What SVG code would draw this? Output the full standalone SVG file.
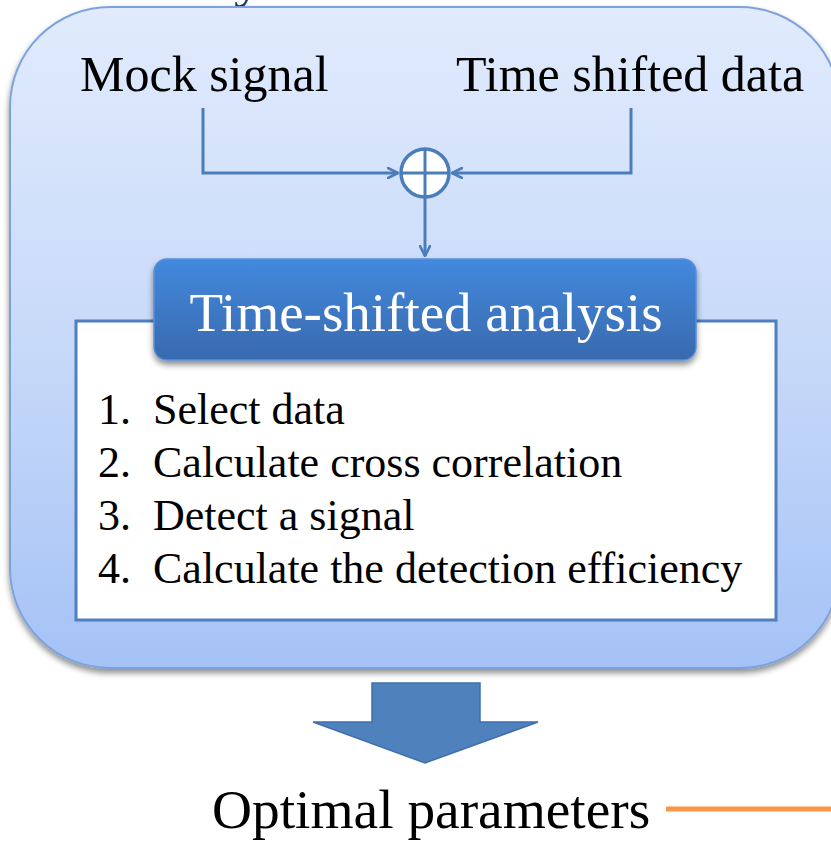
<svg xmlns="http://www.w3.org/2000/svg" width="831" height="841" viewBox="0 0 831 841">
  <style>
    .conn { fill: none; stroke: #4a7ebb; stroke-width: 3; }
  </style>
  <defs>
    <linearGradient id="panelGrad" x1="0" y1="0" x2="0" y2="1">
      <stop offset="0" stop-color="#e1ebfd"/>
      <stop offset="0.5" stop-color="#c8daf9"/>
      <stop offset="1" stop-color="#a5c2f6"/>
    </linearGradient>
    <linearGradient id="headGrad" x1="0" y1="0" x2="0" y2="1">
      <stop offset="0" stop-color="#4389de"/>
      <stop offset="1" stop-color="#3869ae"/>
    </linearGradient>
    <filter id="shadow" x="-10%" y="-20%" width="120%" height="150%">
      <feGaussianBlur in="SourceAlpha" stdDeviation="3"/>
      <feOffset dx="0" dy="4" result="b"/>
      <feComponentTransfer><feFuncA type="linear" slope="0.45"/></feComponentTransfer>
      <feMerge><feMergeNode/><feMergeNode in="SourceGraphic"/></feMerge>
    </filter>
    <marker id="arrow" viewBox="0 0 12 12" refX="11" refY="6" markerWidth="12" markerHeight="12" markerUnits="userSpaceOnUse" orient="auto">
      <path d="M1,1 L11,6 L1,11" fill="none" stroke="#4a7ebb" stroke-width="2.6" stroke-linecap="round" stroke-linejoin="round"/>
    </marker>
  </defs>

  <g font-family="'Liberation Serif', 'DejaVu Serif', serif" fill="#000000">
    <!-- descender of the heading above the panel -->
    <text x="234" y="-4" font-size="56" fill="#17365d">y</text>

    <!-- outer rounded panel -->
    <g id="panel">
      <rect x="10" y="7" width="830" height="661" rx="100" ry="100" fill="url(#panelGrad)" stroke="#7ea3da" stroke-width="2" filter="url(#shadow)"/>
    </g>

    <!-- inputs -->
    <g id="mock-signal">
      <text x="80" y="91" font-size="50">Mock signal</text>
    </g>
    <g id="time-shifted-data">
      <text x="456" y="91" font-size="50">Time shifted data</text>
    </g>

    <!-- summing junction -->
    <g id="sum">
      <circle cx="425" cy="173" r="24" fill="#ffffff" stroke="#4a7ebb" stroke-width="3.5"/>
      <line x1="425" y1="149" x2="425" y2="197" stroke="#4a7ebb" stroke-width="3"/>
      <line x1="401" y1="173" x2="449" y2="173" stroke="#4a7ebb" stroke-width="3"/>
    </g>

    <!-- steps box -->
    <g id="steps" font-size="44">
      <rect x="76" y="321" width="700" height="299" fill="#ffffff" stroke="#4f7fbe" stroke-width="3"/>
      <text x="98" y="424">1.</text>
      <text x="153" y="424">Select data</text>
      <text x="98" y="477">2.</text>
      <text x="153" y="477">Calculate cross correlation</text>
      <text x="98" y="530">3.</text>
      <text x="153" y="530">Detect a signal</text>
      <text x="98" y="583">4.</text>
      <text x="153" y="583">Calculate the detection efficiency</text>
    </g>

    <!-- analysis header -->
    <g id="analysis">
      <rect x="154" y="259" width="542" height="101" rx="13" ry="13" fill="url(#headGrad)" stroke="#5a8fd6" stroke-width="1.5" filter="url(#shadow)"/>
      <text x="426" y="331" font-size="55" text-anchor="middle" fill="#ffffff">Time-shifted analysis</text>
    </g>

    <!-- connectors -->
    <g id="connectors">
      <path class="conn" d="M203,108 V173 H398" marker-end="url(#arrow)"/>
      <path class="conn" d="M631,108 V173 H452" marker-end="url(#arrow)"/>
      <path class="conn" d="M425,197 V256" marker-end="url(#arrow)"/>
    </g>

    <!-- block arrow to result -->
    <g id="down-arrow">
      <path d="M372,683 H480 V722 H538 L425,763 L313,722 H372 Z" fill="#4f81bd" stroke="#3f6fae" stroke-width="1.5"/>
    </g>

    <g id="optimal-parameters">
      <text x="212" y="828" font-size="55.4">Optimal parameters</text>
    </g>
    <line x1="666" y1="809" x2="831" y2="809" stroke="#f79646" stroke-width="5"/>
  </g>
</svg>
